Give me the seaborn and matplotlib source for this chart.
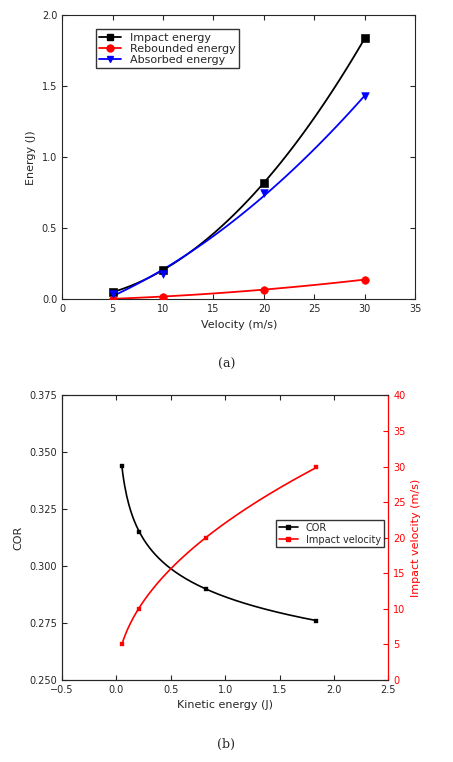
import numpy as np
import matplotlib
matplotlib.use("Agg")
import matplotlib.pyplot as plt
import seaborn as sns
import pandas as pd

sns.set_style("ticks")
plt.rcParams['font.family'] = ['DejaVu Sans']

velocity = [5, 10, 20, 30]
impact_energy = [0.05, 0.21, 0.82, 1.84]
rebounded_energy = [0.005, 0.02, 0.07, 0.14]
absorbed_energy = [0.04, 0.18, 0.75, 1.43]

kinetic_energy = [0.05, 0.21, 0.82, 1.84]
cor = [0.344, 0.315, 0.290, 0.276]
impact_velocity = [5, 10, 20, 30]

fig = plt.figure(figsize=(4.53, 7.62), dpi=100)
ax1 = fig.add_axes([0.137, 0.607, 0.78, 0.373])
ax2 = fig.add_axes([0.137, 0.108, 0.72, 0.373])

series = [(impact_energy, 'black', 's', 'Impact energy'),
          (rebounded_energy, 'red', 'o', 'Rebounded energy'),
          (absorbed_energy, 'blue', 'v', 'Absorbed energy')]
xs = np.linspace(5, 30, 100)
handles = []
for vals, c, m, lab in series:
    coef = np.polyfit(velocity, vals, 2)
    sns.lineplot(x=xs, y=np.polyval(coef, xs), color=c, lw=1.3, ax=ax1)
    sns.scatterplot(x=velocity, y=vals, color=c, marker=m, s=30, edgecolor=c, ax=ax1, zorder=5)
    handles.append(plt.Line2D([], [], color=c, marker=m, ms=5, lw=1.3, label=lab))
ax1.set_xlim(0, 35); ax1.set_ylim(0, 2.0)
ax1.set_xticks(range(0, 36, 5)); ax1.set_yticks([0, 0.5, 1.0, 1.5, 2.0])
ax1.set_xlabel('Velocity (m/s)', fontsize=8); ax1.set_ylabel('Energy (J)', fontsize=8)
ax1.tick_params(labelsize=7, direction='in', top=True, right=True)
ax1.legend(handles=handles, loc='upper left', bbox_to_anchor=(0.08, 0.97), fontsize=8,
           frameon=True, fancybox=False, edgecolor='black', handlelength=2, borderpad=0.3, labelspacing=0.1)
fig.text(0.5, 0.517, '(a)', ha='center', fontsize=9, family='serif')

# bottom
ke = np.array(kinetic_energy)
xe = np.linspace(0.05, 1.84, 200)
c1 = np.polyfit(np.log(ke), np.log(cor), 1)
sns.lineplot(x=xe, y=np.exp(np.polyval(c1, np.log(xe))), color='black', lw=1.2, ax=ax2)
sns.scatterplot(x=kinetic_energy, y=cor, color='black', marker='s', s=10, edgecolor='black', ax=ax2, zorder=5)
ax2.set_xlim(-0.5, 2.5); ax2.set_ylim(0.25, 0.375)
ax2.set_xticks(np.arange(-0.5, 2.51, 0.5)); ax2.set_yticks(np.arange(0.25, 0.3751, 0.025))
ax2.set_yticklabels([f'{v:.3f}' for v in np.arange(0.25, 0.3751, 0.025)])
ax2.set_xlabel('Kinetic energy (J)', fontsize=8); ax2.set_ylabel('COR', fontsize=8)
ax2.tick_params(labelsize=7, direction='in', top=True)
ax3 = ax2.twinx()
c2 = np.polyfit(np.log(ke), np.log(impact_velocity), 1)
sns.lineplot(x=xe, y=np.exp(np.polyval(c2, np.log(xe))), color='red', lw=1.2, ax=ax3)
sns.scatterplot(x=kinetic_energy, y=impact_velocity, color='red', marker='s', s=10, edgecolor='red', ax=ax3, zorder=5)
ax3.set_ylim(0, 40); ax3.set_yticks(range(0, 41, 5))
ax3.set_ylabel('Impact velocity (m/s)', fontsize=8, color='red')
ax3.tick_params(labelsize=7, direction='in', colors='red')
ax3.spines['right'].set_color('red')
h2 = [plt.Line2D([], [], color='black', marker='s', ms=3, lw=1.2, label='COR'),
      plt.Line2D([], [], color='red', marker='s', ms=3, lw=1.2, label='Impact velocity')]
ax3.legend(handles=h2, loc='upper left', bbox_to_anchor=(0.64, 0.58), fontsize=7, frameon=True,
           fancybox=False, edgecolor='black', borderpad=0.3, labelspacing=0.2)
fig.text(0.5, 0.018, '(b)', ha='center', fontsize=9, family='serif')
fig.savefig('out.png', dpi=100)
